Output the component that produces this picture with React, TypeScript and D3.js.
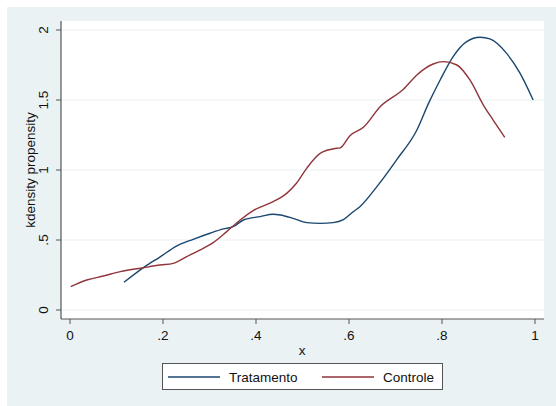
import React from "react";
import * as d3 from "d3";

const tratX = [0.116, 0.161, 0.194, 0.229, 0.265, 0.301, 0.330, 0.351, 0.373, 0.409, 0.437, 0.452, 0.48, 0.509, 0.538, 0.566, 0.588, 0.609, 0.624, 0.66, 0.702, 0.746, 0.771, 0.796, 0.824, 0.853, 0.882, 0.903, 0.939, 0.968, 0.996];
const tratY = [0.198, 0.31, 0.38, 0.457, 0.505, 0.548, 0.579, 0.595, 0.643, 0.667, 0.684, 0.679, 0.655, 0.624, 0.619, 0.624, 0.645, 0.702, 0.74, 0.881, 1.071, 1.286, 1.476, 1.643, 1.81, 1.917, 1.948, 1.936, 1.833, 1.69, 1.5];

const ctrlX = [0.0015, 0.036, 0.072, 0.108, 0.158, 0.194, 0.222, 0.251, 0.280, 0.308, 0.337, 0.366, 0.394, 0.437, 0.466, 0.487, 0.509, 0.538, 0.573, 0.581, 0.602, 0.631, 0.667, 0.717, 0.746, 0.781, 0.803, 0.832, 0.860, 0.889, 0.910, 0.935];
const ctrlY = [0.167, 0.214, 0.243, 0.274, 0.302, 0.321, 0.333, 0.381, 0.429, 0.481, 0.560, 0.643, 0.710, 0.774, 0.833, 0.905, 1.012, 1.119, 1.155, 1.158, 1.245, 1.305, 1.452, 1.576, 1.679, 1.757, 1.774, 1.75, 1.643, 1.464, 1.357, 1.233];

const xTicks = [0, 0.2, 0.4, 0.6, 0.8, 1];
const xTickLabels = ["0", ".2", ".4", ".6", ".8", "1"];
const yTicks = [0, 0.5, 1, 1.5, 2];
const yTickLabels = ["0", ".5", "1", "1.5", "2"];
const seriesNames = ["Tratamento", "Controle"];

const BLUE = "#1a476f";
const RED = "#90353b";
const BG = "#eaf2f3";
const FONT = "Liberation Sans, Arial, sans-serif";

export default function App() {
  const W = 556, H = 406;
  const plotL = 61, plotR = 544, plotT = 21, plotB = 319;
  const x = d3.scaleLinear().domain([0, 1]).range([70, 535]);
  const y = d3.scaleLinear().domain([0, 2]).range([310, 30]);
  const line = d3.line<[number, number]>().x(d => x(d[0])).y(d => y(d[1])).curve(d3.curveMonotoneX);
  const trat = tratX.map((v, i) => [v, tratY[i]] as [number, number]);
  const ctrl = ctrlX.map((v, i) => [v, ctrlY[i]] as [number, number]);

  return (
    <svg width={W} height={H} style={{ position: "absolute", left: 0, top: 0 }} fontFamily={FONT}>
      <rect x={0} y={0} width={W} height={H} fill="#fff" />
      <rect x={7} y={7} width={W - 7} height={H - 7} fill={BG} />
      <rect x={plotL} y={plotT} width={plotR - plotL} height={plotB - plotT} fill="#fff" />
      {yTicks.map(t => (
        <line key={"g" + t} x1={plotL} x2={plotR} y1={y(t)} y2={y(t)} stroke={BG} strokeWidth={1.2} />
      ))}
      <line x1={plotL} x2={plotL} y1={plotT} y2={plotB} stroke="#555" strokeWidth={1.2} />
      <line x1={plotL} x2={plotR} y1={plotB} y2={plotB} stroke="#555" strokeWidth={1.2} />
      {yTicks.map((t, i) => (
        <g key={"y" + t}>
          <line x1={plotL - 5} x2={plotL} y1={y(t)} y2={y(t)} stroke="#555" strokeWidth={1} />
          <text transform={`translate(48,${y(t)}) rotate(-90)`} textAnchor="middle" fontSize={13.5} fill="#111">{yTickLabels[i]}</text>
        </g>
      ))}
      {xTicks.map((t, i) => (
        <g key={"x" + t}>
          <line x1={x(t)} x2={x(t)} y1={plotB} y2={plotB + 5} stroke="#555" strokeWidth={1} />
          <text x={x(t)} y={340} textAnchor="middle" fontSize={13.5} fill="#111">{xTickLabels[i]}</text>
        </g>
      ))}
      <text x={302} y={355} textAnchor="middle" fontSize={13.5} fill="#111">x</text>
      <text transform={`translate(35,170) rotate(-90)`} textAnchor="middle" fontSize={13.5} fill="#111">kdensity propensity</text>
      <path d={line(trat) || ""} fill="none" stroke={BLUE} strokeWidth={1.4} />
      <path d={line(ctrl) || ""} fill="none" stroke={RED} strokeWidth={1.4} />
      <rect x={162.5} y={363.5} width={280} height={26} fill="#fff" stroke="#555" strokeWidth={1} />
      <line x1={168} x2={220} y1={377} y2={377} stroke={BLUE} strokeWidth={1.4} />
      <text x={229} y={381.5} fontSize={13.5} fill="#111">{seriesNames[0]}</text>
      <line x1={322} x2={374} y1={377} y2={377} stroke={RED} strokeWidth={1.4} />
      <text x={383} y={381.5} fontSize={13.5} fill="#111">{seriesNames[1]}</text>
    </svg>
  );
}
